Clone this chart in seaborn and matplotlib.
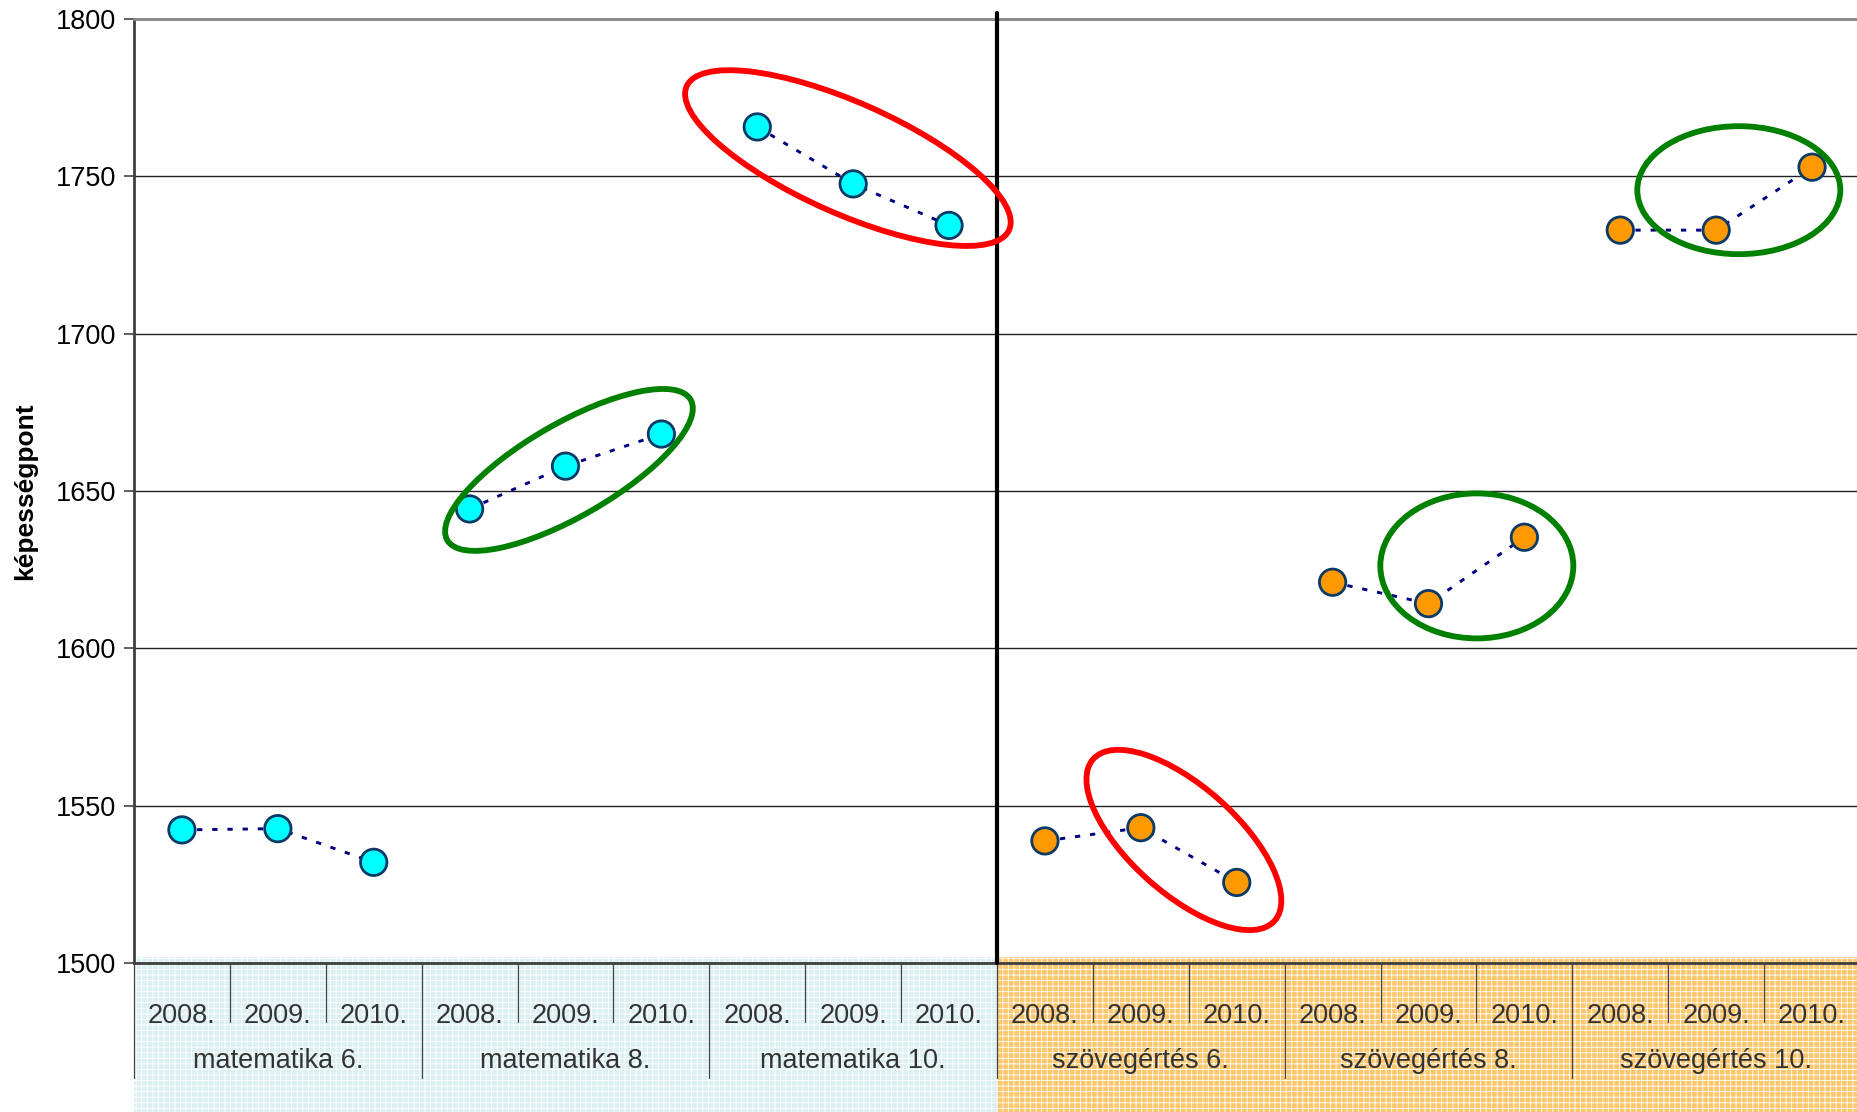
"""képességpont: matematika / szövegértés 2008-2010"""

import pandas as pd
import seaborn as sns
import matplotlib.pyplot as plt
from matplotlib.patches import Ellipse, Rectangle
from matplotlib.transforms import ScaledTranslation, blended_transform_factory

sns.set_style("white")
plt.rcParams['font.family'] = ['Liberation Sans', 'DejaVu Sans']
plt.rcParams['hatch.linewidth'] = 0.6

# ---- data ----
years = ['2008.', '2009.', '2010.']
groups = ['matematika 6.', 'matematika 8.', 'matematika 10.',
          'szövegértés 6.', 'szövegértés 8.', 'szövegértés 10.']
subjects = ['matematika', 'matematika', 'matematika',
            'szövegértés', 'szövegértés', 'szövegértés']
mat6 = [1542.3, 1542.7, 1532.0]
mat8 = [1644.3, 1657.9, 1668.1]
mat10 = [1765.7, 1747.6, 1734.4]
szov6 = [1538.8, 1543.0, 1525.6]
szov8 = [1621.0, 1614.2, 1635.3]
szov10 = [1732.9, 1732.9, 1752.9]
values = [mat6, mat8, mat10, szov6, szov8, szov10]

subject_colors = {'matematika': '#00ffff', 'szövegértés': '#ff9900'}
band_colors = {'matematika': '#dcf0f2', 'szövegértés': '#fcc66c'}

# highlight rings: (group index, offset within group, y center, width px, height px, angle, colour)
rings = [
    (2, 0.945, 1755.8, 353, 111, -24, 'red'),
    (1, 1.036, 1656.7, 281, 93, 30, 'green'),
    (3, 1.449, 1539.1, 243, 107, -41.7, 'red'),
    (4, 1.504, 1626.2, 193, 145, 0, 'green'),
    (5, 1.236, 1745.6, 203, 128, 0, 'green'),
]

rows = []
for gi, (g, subj, vals) in enumerate(zip(groups, subjects, values)):
    for yi, (yr, v) in enumerate(zip(years, vals)):
        rows.append({'group': g, 'subject': subj, 'year': yr,
                     'pos': gi * len(years) + yi, 'value': v})
df = pd.DataFrame(rows)

W, H = 1858, 1112
fig = plt.figure(figsize=(W / 100, H / 100), dpi=100)
ax = fig.add_axes([134 / W, 149 / H, 1726 / W, 944 / H])

sns.lineplot(data=df, x='pos', y='value', units='group', estimator=None,
             color='#000080', lw=2.1, linestyle=(0, (1.8, 3.4)), ax=ax, zorder=3)
sns.scatterplot(data=df, x='pos', y='value', hue='subject', palette=subject_colors,
                s=19 ** 2, edgecolor='#0b3a66', linewidth=2, legend=False,
                ax=ax, zorder=4)

n = len(df)
ax.set_xlim(-0.5, n - 0.5)
ax.set_ylim(1500, 1800)
ax.set_yticks(range(1500, 1801, 50))
ax.yaxis.grid(True, color='#222222', lw=1)
ax.tick_params(axis='y', left=True, length=7, width=1.2, color='#444444',
               labelsize=19.5, pad=6, labelcolor='black')
ax.set_xticks(df['pos'])
ax.set_xticklabels(df['year'], fontsize=19.5, color='#333333')
ax.tick_params(axis='x', length=0, pad=29)
ax.set_xlabel('')
ax.set_ylabel('képességpont', fontsize=19, fontweight='bold', color='black')
ax.yaxis.set_label_coords(-97 / 1726, 0.5)

for s in ['right', 'bottom']:
    ax.spines[s].set_visible(False)
ax.spines['top'].set_color('#888888')
ax.spines['top'].set_linewidth(2)
ax.spines['left'].set_color('#404040')
ax.spines['left'].set_linewidth(2)

# category table under the plot
bt = blended_transform_factory(ax.transData, ax.transAxes)
ny = len(years)
for gi, (g, subj) in enumerate(zip(groups, subjects)):
    x0 = gi * ny - 0.5
    ax.add_patch(Rectangle((x0, -0.16), ny, 0.166, transform=bt, facecolor=band_colors[subj],
                           edgecolor='white', hatch='+++', lw=0, clip_on=False, zorder=0))
    ax.text(x0 + ny / 2, -0.104, g, transform=bt, ha='center', va='center',
            fontsize=19.5, color='#333333')
    ax.plot([x0, x0], [0, -0.122], transform=bt, color='#444444', lw=0.9, clip_on=False)
    for k in range(1, ny):
        ax.plot([x0 + k, x0 + k], [0, -0.0625], transform=bt, color='#444444',
                lw=0.9, clip_on=False)
ax.plot([-0.5, n - 0.5], [0, 0], transform=bt, color='#404040', lw=2, clip_on=False, zorder=5)

# divider between subjects
ax.plot([3 * ny - 0.5] * 2, [0, 1.006], transform=bt, color='black', lw=3,
        clip_on=False, zorder=5)

# highlight rings
for gi, off, yc, w, h, ang, col in rings:
    tr = fig.dpi_scale_trans + ScaledTranslation(gi * ny + off, yc, ax.transData)
    ax.add_patch(Ellipse((0, 0), w / 100, h / 100, angle=ang, transform=tr, fill=False,
                         edgecolor=col, lw=4.2, clip_on=False, zorder=6))

fig.savefig('out.png', dpi=100)
